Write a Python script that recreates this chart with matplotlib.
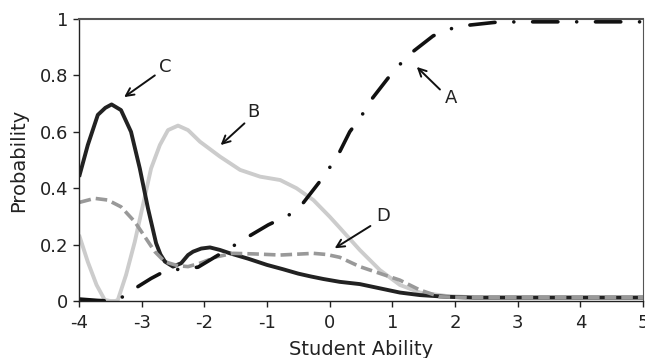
import matplotlib
matplotlib.use("Agg")
import matplotlib.pyplot as plt

plt.rcParams["axes.unicode_minus"] = False

# option A (correct answer), dash-dot black
a_x = [-4, -3.7, -3.5, -3.4, -3.27, -3.06, -2.85, -2.63, -2.39, -2.1, -1.83, -1.51, -1.3, -0.98,
       -0.65, -0.45, -0.16, -0.01, 0.135, 0.32, 0.51, 0.64, 0.93, 1.1, 1.28, 1.65, 1.89, 2.13,
       2.63, 3, 5]
a_y = [0.007, 0.002, 0.0, 0.005, 0.018, 0.051, 0.08, 0.106, 0.113, 0.12, 0.156, 0.199, 0.228, 0.27,
       0.305, 0.34, 0.423, 0.47, 0.518, 0.6, 0.657, 0.707, 0.79, 0.834, 0.876, 0.94, 0.963, 0.976,
       0.988, 0.99, 0.99]

# option B, light grey
b_x = [-3.99, -3.86, -3.72, -3.59, -3.5, -3.42, -3.38, -3.25, -3.11, -2.98, -2.85, -2.71, -2.58,
       -2.42, -2.26, -2.07, -1.75, -1.43, -1.11, -0.79, -0.53, -0.26, 0.0, 0.16, 0.48, 0.8, 1.12,
       1.44, 1.86, 2.3, 5]
b_y = [0.228, 0.139, 0.057, 0.004, 0.0, 0.0, 0.004, 0.092, 0.21, 0.34, 0.47, 0.553, 0.606,
       0.622, 0.606, 0.565, 0.512, 0.465, 0.441, 0.429, 0.4, 0.358, 0.299, 0.26, 0.181, 0.11, 0.057,
       0.03, 0.018, 0.013, 0.013]

# option C, black solid
c_x = [-3.99, -3.86, -3.7, -3.58, -3.48, -3.33, -3.17, -3.03, -2.9, -2.77, -2.7, -2.63, -2.5,
       -2.37, -2.26, -2.18, -2.05, -1.91, -1.75, -1.59, -1.3, -1.0, -0.75, -0.5, -0.3, -0.1, 0.16,
       0.48, 0.8, 1.12, 1.44, 1.86, 2.3, 5]
c_y = [0.447, 0.553, 0.66, 0.685, 0.697, 0.677, 0.6, 0.47, 0.329, 0.205, 0.165, 0.14, 0.122,
       0.134, 0.163, 0.175, 0.186, 0.19, 0.181, 0.169, 0.15, 0.128, 0.113, 0.097, 0.087, 0.078,
       0.068, 0.06, 0.045, 0.03, 0.021, 0.015, 0.012, 0.012]

# option D, grey dashed
d_x = [-3.99, -3.75, -3.54, -3.33, -3.11, -2.95, -2.79, -2.63, -2.42, -2.26, -2.07, -1.8, -1.54,
       -1.2, -0.79, -0.26, -0.05, 0.16, 0.48, 0.8, 1.12, 1.44, 1.76, 2.2, 5]
d_y = [0.35, 0.364, 0.358, 0.334, 0.281, 0.228, 0.175, 0.139, 0.125, 0.122, 0.134, 0.157, 0.169,
       0.167, 0.163, 0.169, 0.165, 0.155, 0.122, 0.098, 0.074, 0.039, 0.015, 0.012, 0.012]

# annotation: label, text position, arrow start, arrow tip
labels = ["A", "B", "C", "D"]
text_xy = [(1.94, 0.72), (-1.22, 0.67), (-2.63, 0.83), (0.86, 0.30)]
tail_xy = [(1.76, 0.75), (-1.36, 0.63), (-2.79, 0.80), (0.65, 0.266)]
head_xy = [(1.39, 0.83), (-1.74, 0.553), (-3.28, 0.723), (0.08, 0.187)]

fig = plt.figure(figsize=(6.45, 3.58), dpi=100)
ax = fig.add_axes([0.1225, 0.1592, 0.8744, 0.7877])

ax.plot(b_x, b_y, color="#cccccc", lw=2.8, solid_joinstyle="round")
ax.plot(c_x, c_y, color="#222222", lw=2.8, solid_joinstyle="round")
ax.plot(d_x, d_y, color="#999999", lw=2.6, dashes=(3.2, 1.4), dash_capstyle="butt",
        dash_joinstyle="round")
ax.plot(a_x, a_y, color="#111111", lw=2.6, dashes=(7.0, 5.2, 0.01, 5.2), dash_capstyle="round",
        dash_joinstyle="round")

for lab, t, s, h in zip(labels, text_xy, tail_xy, head_xy):
    ax.annotate("", xy=h, xytext=s,
                arrowprops=dict(arrowstyle="->", color="#111111", lw=1.4,
                                mutation_scale=14, shrinkA=0, shrinkB=0))
    ax.text(t[0], t[1], lab, fontsize=13, ha="center", va="center", color="#222222")

ax.set_xlim(-4, 5)
ax.set_ylim(0, 1)
ax.set_xticks(range(-4, 6))
ax.set_yticks([0, 0.2, 0.4, 0.6, 0.8, 1])
ax.set_yticklabels(["0", "0.2", "0.4", "0.6", "0.8", "1"])
ax.tick_params(labelsize=13, length=4, width=1, colors="#222222")
ax.tick_params(axis="x", pad=5)
ax.tick_params(axis="y", pad=4)

for side in ["left", "bottom"]:
    ax.spines[side].set_color("#222222")
    ax.spines[side].set_linewidth(1.0)
ax.spines["top"].set_color("#555555")
ax.spines["top"].set_linewidth(1.5)
ax.spines["right"].set_color("#555555")
ax.spines["right"].set_linewidth(0.8)

ax.set_xlabel("Student Ability", fontsize=14, color="#222222", labelpad=6)
ax.set_ylabel("Probability", fontsize=14, color="#222222", labelpad=8)

fig.savefig("out.png", dpi=100)
